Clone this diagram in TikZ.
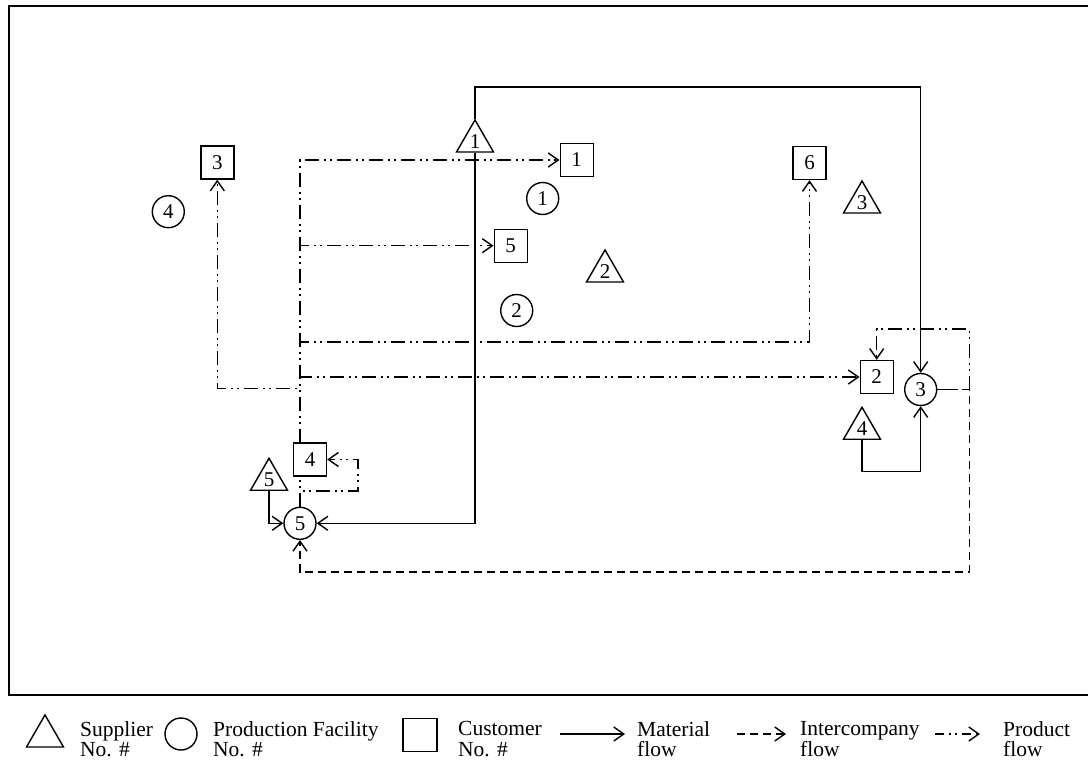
\documentclass[tikz,border=0pt]{standalone}
\usepackage{fontspec}
\setmainfont{Liberation Serif}
\usetikzlibrary{arrows.meta,shapes.geometric}
\pgfdeclarelayer{bg}
\pgfsetlayers{bg,main}
\begin{document}
\begin{tikzpicture}[x=1pt,y=-1pt,
  every node/.style={font=\fontsize{21}{19}\selectfont},
  thick line/.style={line width=1.4pt},
  sup/.style={thick line,draw,fill=white,regular polygon,regular polygon sides=3,minimum size=42.7pt,inner sep=0pt},
  fac/.style={thick line,draw,fill=white,circle,minimum size=32pt,inner sep=0pt},
  cus/.style={thick line,draw,fill=white,rectangle,minimum size=33pt,inner sep=0pt},
  arr/.style={thick line,-{Straight Barb[length=10pt,width=14pt]}},
  mat/.style={arr},
  inter/.style={arr,dash pattern=on 8pt off 5pt},
  prod/.style={arr,dash pattern=on 14pt off 5pt on 2pt off 4pt on 2pt off 5pt},
  legprod/.style={arr,dash pattern=on 9pt off 5pt on 2pt off 4pt on 2pt off 5pt},
  leg/.style={anchor=west,align=left,inner sep=0pt,font=\fontsize{21.5}{20.5}\selectfont}
]
\useasboundingbox (0,0) rectangle (1088,763);
% frame
\draw[thick line] (1090,6) -- (9,6) -- (9,695) -- (1090,695);

% suppliers
\node[sup] (s1) at (475,141.3) {1};
\node[sup] (s2) at (605,271.3) {2};
\node[sup] (s3) at (862,202.3) {3};
\node[sup] (s4) at (862,428.6) {4};
\node[sup] (s5) at (269,479.6) {5};
% facilities
\node[fac] (c1) at (542.7,198.5) {1};
\node[fac] (c2) at (516.7,310.5) {2};
\node[fac] (c3) at (920.7,389.5) {3};
\node[fac] (c4) at (168.3,211.7) {4};
\node[fac] (c5) at (300,523.3) {5};
% customers
\node[cus] (cu1) at (576.7,160) {1};
\node[cus] (cu2) at (876.7,377) {2};
\node[cus] (cu3) at (217.3,162.5) {3};
\node[cus] (cu4) at (310,459.5) {4};
\node[cus] (cu5) at (510.7,245.7) {5};
\node[cus] (cu6) at (809.5,163) {6};

% helper coordinates
\coordinate (ytop) at (0,87);
\coordinate (ym4) at (0,471.5);
\coordinate (y6) at (0,342);
\coordinate (y3) at (0,388.5);
\coordinate (y4) at (0,491);
\coordinate (x4) at (358,0);
\coordinate (x3) at (969.5,0);
\coordinate (y2t) at (0,329);
\coordinate (ybot) at (0,572);

\begin{pgfonlayer}{bg}
% material flows
\draw[mat] (s1.north) -- (s1.north |- ytop) -| (c3.north);
\draw[mat] (s1.south) |- (c5.east);
\draw[mat] (s5.south) |- (c5.west);
\draw[mat] (s4.south) -- (s4.south |- ym4) -| (c3.south);
% product flows
\draw[prod] (c5.north) |- (cu1.west);
\draw[prod] (c5.north) |- (cu5.west);
\draw[prod] (c5.north) |- (cu2.west);
\draw[prod] (c5.north) |- (cu6.south |- y6) -- (cu6.south);
\draw[prod] (c5.north) |- (cu3.south |- y3) -- (cu3.south);
\draw[prod] (c5.north) -- (c5.north |- y4) -| (x4 |- cu4.east) -- (cu4.east);
\draw[prod] (c3.east) -- (c3.east -| x3) |- (cu2.north |- y2t) -- (cu2.north);
% intercompany flow
\draw[inter] (c3.east) -- (c3.east -| x3) |- (c5.south |- ybot) -- (c5.south);
\end{pgfonlayer}

% legend
\node[sup] (ls) at (45,736.3) {};
\node[leg] (lst) at (80,739) {Supplier\\No. \#};
\node[fac] (lf) at (181,734) {};
\node[leg] (lft) at (213,739) {Production Facility\\No. \#};
\node[cus,minimum width=34pt] (lc) at (420,735) {};
\node[leg] (lct) at (458,739) {Customer\\No. \#};
\coordinate (lm1) at (560,734);
\coordinate (lm2) at (625,734);
\draw[mat] (lm1) -- (lm2);
\node[leg] (lmt) at (637,739) {Material\\flow};
\coordinate (li1) at (737,734);
\coordinate (li2) at (786,734);
\draw[inter] (li1) -- (li2);
\node[leg] (lit) at (800,739) {Intercompany\\flow};
\coordinate (lp1) at (935,734);
\coordinate (lp2) at (980,734);
\draw[legprod] (lp1) -- (lp2);
\node[leg] (lpt) at (1003,739) {Product\\flow};
\end{tikzpicture}
\end{document}
